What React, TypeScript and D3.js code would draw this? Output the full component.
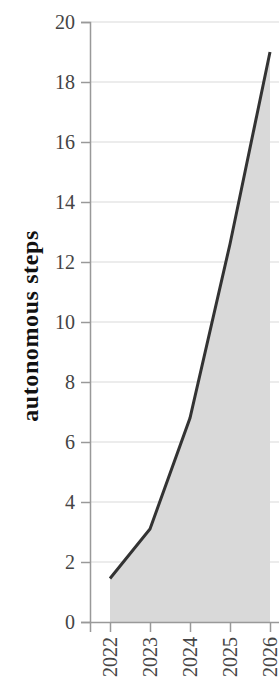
import { useEffect, useRef } from 'react';
import * as d3 from 'd3';

const years = ['2022', '2023', '2024', '2025', '2026'];
const steps = [1.45, 3.1, 6.8, 12.6, 19.0];
const yTicks = [0, 2, 4, 6, 8, 10, 12, 14, 16, 18, 20];

export default function App() {
  const svgRef = useRef<SVGSVGElement>(null);

  useEffect(() => {
    if (!svgRef.current) return;
    const width = 279;
    const height = 679;
    const margin = { top: 22, right: -11, bottom: 57, left: 90 };

    const svg = d3.select(svgRef.current);
    svg.selectAll('*').remove();

    const x = d3.scalePoint<string>()
      .domain(years)
      .range([margin.left, width - margin.right])
      .padding(0.5);

    const y = d3.scaleLinear()
      .domain([0, 20])
      .range([height - margin.bottom, margin.top]);

    const data = years.map((yr, i) => ({ yr, v: steps[i] }));
    const font = '"Liberation Serif", serif';

    // gridlines
    svg.append('g')
      .selectAll('line')
      .data(yTicks.filter(t => t > 0))
      .join('line')
      .attr('x1', margin.left)
      .attr('x2', width)
      .attr('y1', d => y(d))
      .attr('y2', d => y(d))
      .attr('stroke', '#e6e6e6')
      .attr('stroke-width', 1.5);

    const area = d3.area<{ yr: string; v: number }>()
      .x(d => x(d.yr)!)
      .y0(y(0))
      .y1(d => y(d.v));

    svg.append('path')
      .datum(data)
      .attr('d', area)
      .attr('fill', '#d9d9d9');

    const line = d3.line<{ yr: string; v: number }>()
      .x(d => x(d.yr)!)
      .y(d => y(d.v));

    svg.append('path')
      .datum(data)
      .attr('d', line)
      .attr('fill', 'none')
      .attr('stroke', '#333')
      .attr('stroke-width', 3);

    // y axis
    const yAxis = svg.append('g')
      .attr('transform', `translate(${margin.left},0)`)
      .call(d3.axisLeft(y).tickValues(yTicks).tickSize(9).tickPadding(6));
    yAxis.select('.domain').attr('stroke', '#999').attr('stroke-width', 1.5);
    yAxis.selectAll('.tick line').attr('stroke', '#999').attr('stroke-width', 1.5);
    yAxis.selectAll('.tick text')
      .attr('fill', '#444')
      .style('font-family', font)
      .style('font-size', '20px');

    // x axis
    const xAxis = svg.append('g')
      .attr('transform', `translate(0,${y(0)})`)
      .call(d3.axisBottom(x).tickSize(10).tickPadding(4));
    xAxis.select('.domain').attr('stroke', '#999').attr('stroke-width', 1.5);
    xAxis.selectAll('.tick line').attr('stroke', '#999').attr('stroke-width', 1.5);
    xAxis.selectAll('.tick text')
      .attr('fill', '#444')
      .style('font-family', font)
      .style('font-size', '20px')
      .attr('transform', 'rotate(-90)')
      .attr('text-anchor', 'end')
      .attr('x', -15)
      .attr('y', 0)
      .attr('dy', '0.32em');

    svg.append('text')
      .attr('transform', `translate(30,326) rotate(-90)`)
      .attr('text-anchor', 'middle')
      .attr('dy', '0.35em')
      .style('font-family', font)
      .style('font-size', '24px')
      .style('font-weight', 'bold')
      .style('letter-spacing', '0.6px')
      .attr('fill', '#111')
      .text('autonomous steps');
  }, []);

  return (
    <svg
      ref={svgRef}
      width={279}
      height={679}
      style={{ position: 'absolute', left: 0, top: 0, display: 'block' }}
    />
  );
}
